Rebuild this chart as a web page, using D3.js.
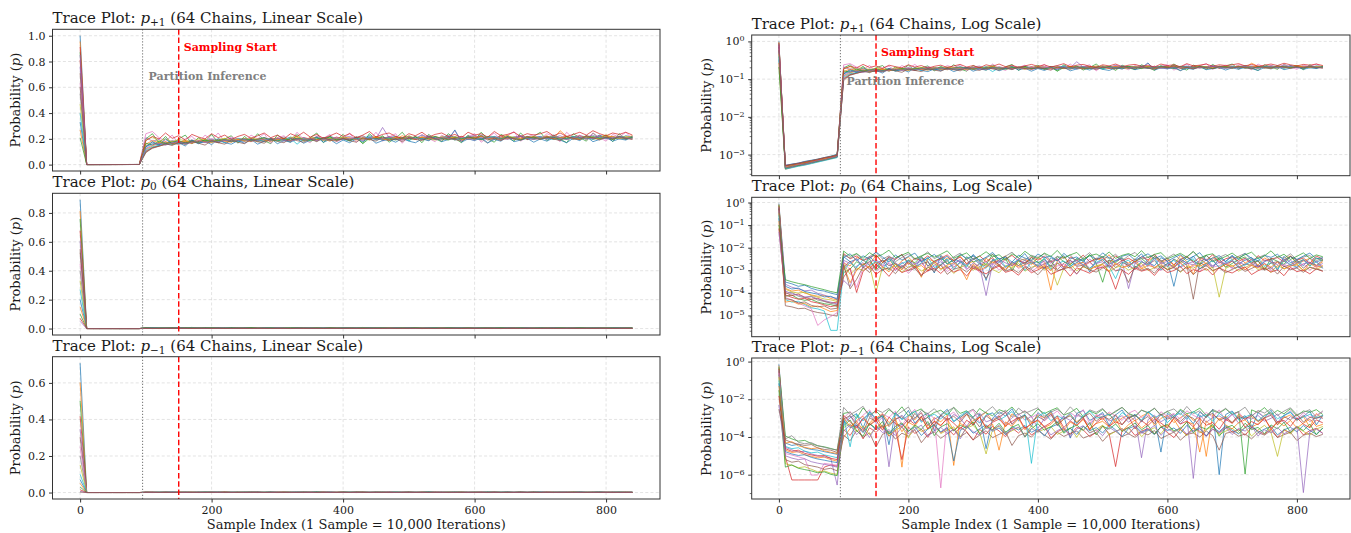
<!DOCTYPE html>
<html><head><meta charset="utf-8">
<script src="https://cdn.jsdelivr.net/npm/d3@7"></script>
<style>body{margin:0;background:#fff}svg{display:block}text{font-family:"DejaVu Serif",serif}</style>
</head><body><svg id="c" width="1351" height="533"></svg>
<script>
// Sample index (1 sample = 10,000 iterations)
const sampleIndex = [0,10,20,30,40,50,60,70,80,90,100,110,120,130,140,150,160,170,180,190,200,210,220,230,240,250,260,270,280,290,300,310,320,330,340,350,360,370,380,390,400,410,420,430,440,450,460,470,480,490,500,510,520,530,540,550,560,570,580,590,600,610,620,630,640,650,660,670,680,690,700,710,720,730,740,750,760,770,780,790,800,810,820,830,840];
const partitionIndex = 95;
const samplingStartIndex = 150;
const xTickValues = [0,200,400,600,800];
const chainCount = 64;

// Chain traces, values stored as 100*log10(p) (one row per drawn chain, 85 samples each)
const pPlus1 = [
[0,-334,-331,-327,-324,-320,-316,-313,-308,-304,-86,-79,-80,-76,-78,-74,-77,-73,-75,-72,-74,-70,-73,-72,-69,-71,-74,-70,-68,-72,-69,-71,-67,-70,-73,-69,-68,-71,-66,-70,-68,-71,-67,-70,-65,-69,-72,-68,-66,-70,-67,-69,-64,-68,-71,-67,-65,-69,-70,-66,-68,-64,-69,-67,-71,-66,-68,-65,-70,-67,-66,-69,-64,-68,-67,-70,-65,-67,-69,-64,-68,-66,-70,-65,-67],
[-2,-337,-332,-329,-325,-322,-317,-314,-310,-306,-92,-84,-78,-79,-75,-77,-73,-76,-74,-71,-75,-73,-70,-74,-72,-69,-72,-75,-70,-71,-68,-73,-70,-67,-71,-69,-72,-68,-70,-73,-67,-70,-68,-72,-69,-66,-71,-68,-70,-65,-69,-71,-67,-68,-66,-70,-67,-72,-66,-69,-68,-65,-70,-67,-69,-64,-71,-68,-66,-69,-68,-65,-70,-58,-66,-69,-71,-65,-68,-67,-64,-70,-66,-68,-65],
[-6,-330,-328,-325,-321,-318,-315,-311,-307,-302,-70,-62,-78,-66,-81,-70,-64,-79,-68,-75,-63,-77,-70,-65,-78,-66,-75,-62,-73,-79,-64,-71,-76,-63,-74,-68,-61,-77,-66,-72,-63,-74,-67,-78,-62,-71,-65,-76,-69,-60,-73,-66,-77,-63,-70,-75,-62,-69,-77,-64,-72,-60,-70,-76,-63,-68,-74,-61,-71,-66,-60,-73,-65,-70,-77,-62,-68,-74,-61,-69,-64,-75,-62,-70,-66],
[-9,-336,-333,-328,-326,-321,-318,-312,-309,-305,-98,-88,-83,-80,-78,-79,-76,-77,-74,-75,-73,-76,-72,-74,-71,-73,-70,-72,-74,-69,-72,-70,-73,-71,-68,-70,-72,-69,-71,-67,-70,-72,-68,-69,-71,-67,-70,-66,-69,-72,-68,-70,-67,-71,-69,-68,-71,-69,-66,-70,-68,-72,-67,-69,-65,-70,-68,-66,-71,-68,-70,-66,-69,-68,-71,-67,-65,-69,-70,-66,-68,-71,-67,-69,-68],
[-12,-328,-326,-322,-319,-316,-313,-309,-306,-301,-68,-74,-71,-78,-73,-75,-79,-72,-76,-73,-70,-74,-71,-69,-73,-70,-74,-71,-68,-72,-70,-74,-69,-71,-68,-72,-66,-70,-69,-71,-68,-66,-71,-69,-67,-70,-54,-68,-71,-69,-66,-70,-68,-65,-70,-69,-66,-68,-71,-67,-64,-70,-68,-66,-69,-71,-67,-65,-69,-68,-67,-70,-68,-65,-69,-66,-70,-67,-64,-69,-67,-70,-66,-68,-69],
[-15,-339,-334,-330,-327,-323,-319,-315,-311,-307,-100,-90,-84,-81,-79,-80,-77,-78,-75,-76,-74,-77,-73,-75,-72,-74,-71,-73,-75,-70,-72,-71,-74,-69,-72,-70,-68,-73,-70,-71,-69,-72,-67,-70,-71,-68,-70,-73,-67,-69,-70,-66,-71,-68,-70,-69,-67,-70,-72,-68,-66,-70,-69,-71,-67,-68,-70,-66,-69,-71,-68,-70,-67,-69,-66,-71,-68,-67,-70,-65,-69,-68,-66,-70,-67],
[-20,-332,-329,-326,-322,-319,-314,-311,-306,-303,-62,-59,-68,-74,-64,-79,-70,-66,-77,-64,-72,-61,-75,-67,-71,-76,-64,-70,-62,-78,-68,-65,-74,-60,-71,-77,-65,-69,-63,-75,-70,-61,-76,-66,-72,-60,-74,-67,-62,-78,-65,-71,-63,-69,-75,-64,-70,-58,-73,-66,-62,-76,-68,-61,-72,-65,-59,-74,-67,-63,-71,-62,-66,-75,-60,-69,-64,-72,-61,-68,-74,-63,-67,-60,-70],
[-26,-335,-330,-328,-323,-320,-317,-313,-309,-306,-84,-76,-81,-77,-74,-78,-75,-72,-77,-74,-71,-75,-73,-70,-74,-72,-69,-73,-71,-74,-70,-67,-72,-70,-69,-71,-74,-68,-70,-72,-69,-71,-68,-65,-70,-69,-72,-67,-71,-68,-66,-70,-69,-73,-67,-70,-68,-66,-69,-71,-68,-70,-78,-68,-72,-67,-69,-70,-66,-68,-69,-66,-71,-68,-70,-67,-69,-65,-68,-70,-66,-69,-68,-71,-66],
[-33,-331,-327,-324,-320,-317,-313,-310,-305,-300,-72,-67,-74,-70,-75,-71,-73,-76,-70,-72,-75,-71,-69,-73,-70,-74,-68,-71,-69,-73,-70,-72,-68,-66,-71,-69,-67,-72,-69,-70,-67,-69,-71,-68,-72,-66,-69,-70,-67,-71,-65,-69,-68,-70,-72,-66,-69,-67,-70,-68,-71,-66,-69,-67,-70,-65,-68,-71,-67,-69,-70,-68,-65,-69,-67,-70,-68,-66,-71,-68,-64,-67,-69,-66,-68],
[-40,-338,-335,-331,-328,-324,-320,-316,-312,-308,-95,-86,-82,-79,-81,-77,-79,-75,-78,-74,-76,-73,-77,-72,-75,-73,-71,-74,-72,-70,-73,-71,-69,-80,-70,-72,-68,-71,-73,-69,-71,-73,-69,-70,-67,-72,-70,-68,-71,-69,-73,-68,-70,-66,-71,-70,-68,-72,-69,-67,-70,-71,-68,-66,-70,-69,-67,-71,-68,-70,-67,-69,-71,-68,-70,-66,-69,-68,-71,-67,-69,-70,-66,-68,-69],
[-48,-329,-325,-323,-318,-315,-312,-308,-304,-299,-86,-75,-82,-70,-80,-77,-84,-72,-79,-74,-81,-70,-77,-80,-73,-78,-71,-80,-74,-69,-79,-73,-76,-70,-78,-72,-67,-76,-71,-79,-72,-77,-70,-75,-68,-78,-73,-71,-76,-69,-74,-77,-70,-73,-67,-75,-71,-57,-76,-70,-73,-68,-77,-71,-74,-66,-75,-72,-69,-76,-70,-74,-68,-72,-77,-69,-73,-66,-75,-71,-68,-74,-70,-72,-67],
[-57,-333,-330,-326,-323,-318,-315,-312,-307,-304,-80,-73,-77,-75,-80,-76,-74,-78,-73,-75,-77,-72,-74,-76,-71,-73,-75,-70,-72,-74,-71,-69,-73,-70,-72,-68,-71,-70,-74,-69,-70,-68,-72,-69,-71,-67,-70,-72,-68,-70,-69,-71,-67,-69,-70,-68,-70,-67,-71,-69,-68,-66,-70,-68,-71,-69,-67,-70,-68,-66,-69,-67,-70,-68,-66,-69,-71,-67,-68,-70,-67,-66,-69,-68,-70],
[-68,-336,-331,-329,-324,-321,-317,-314,-310,-305,-78,-82,-74,-79,-76,-73,-78,-74,-76,-72,-75,-73,-71,-75,-73,-70,-73,-71,-68,-72,-74,-70,-72,-69,-71,-74,-70,-69,-67,-72,-70,-73,-68,-79,-69,-70,-67,-69,-72,-68,-70,-67,-71,-69,-66,-69,-72,-68,-70,-67,-69,-71,-66,-68,-70,-67,-69,-72,-68,-67,-70,-68,-67,-71,-69,-67,-68,-70,-66,-69,-68,-71,-67,-70,-68],
[-4,-330,-327,-324,-321,-317,-314,-309,-306,-302,-73,-66,-70,-61,-69,-65,-72,-63,-67,-70,-62,-68,-64,-71,-66,-63,-69,-65,-61,-68,-64,-70,-62,-66,-60,-67,-63,-69,-65,-61,-66,-62,-68,-64,-59,-67,-63,-61,-66,-69,-62,-65,-60,-67,-63,-61,-66,-63,-68,-60,-64,-62,-67,-59,-65,-63,-60,-66,-62,-64,-62,-59,-65,-61,-66,-63,-60,-64,-58,-62,-65,-61,-63,-60,-64],
[-7,-334,-332,-327,-325,-321,-316,-314,-309,-305,-90,-81,-78,-82,-77,-75,-79,-76,-73,-77,-74,-76,-72,-74,-73,-71,-74,-72,-70,-73,-69,-72,-74,-70,-71,-69,-73,-70,-72,-68,-71,-69,-70,-73,-68,-71,-69,-67,-70,-72,-68,-69,-71,-67,-70,-68,-69,-71,-67,-70,-72,-68,-69,-67,-71,-68,-70,-66,-69,-71,-68,-70,-66,-69,-71,-68,-67,-70,-69,-66,-70,-68,-67,-69,-70],
[-22,-329,-326,-323,-319,-316,-312,-308,-305,-301,-104,-88,-85,-79,-83,-76,-81,-74,-78,-82,-73,-77,-80,-72,-76,-79,-71,-75,-78,-70,-74,-77,-69,-73,-76,-70,-75,-68,-72,-74,-69,-73,-76,-68,-71,-74,-67,-72,-70,-75,-68,-71,-73,-66,-70,-72,-68,-71,-74,-67,-70,-65,-72,-69,-73,-67,-70,-72,-66,-69,-71,-67,-70,-73,-66,-69,-71,-65,-68,-72,-67,-70,-66,-69,-71]
];

const p0 = [
[-5,-352,-360,-371,-366,-380,-388,-392,-401,-408,-240,-262,-251,-285,-238,-270,-255,-299,-247,-231,-268,-290,-244,-259,-312,-236,-274,-249,-262,-287,-230,-258,-345,-251,-266,-240,-279,-253,-226,-270,-261,-293,-244,-258,-235,-281,-266,-249,-308,-255,-239,-273,-260,-247,-288,-252,-227,-265,-280,-244,-259,-371,-250,-268,-237,-276,-254,-290,-245,-262,-233,-271,-256,-243,-284,-262,-249,-301,-238,-267,-255,-280,-246,-264,-252],
[-9,-380,-392,-388,-401,-409,-415,-412,-425,-431,-268,-281,-243,-255,-276,-233,-264,-250,-289,-258,-242,-270,-331,-249,-262,-279,-245,-256,-238,-272,-261,-297,-247,-268,-254,-236,-283,-260,-249,-276,-243,-265,-388,-257,-240,-271,-252,-286,-263,-246,-259,-231,-277,-255,-268,-249,-292,-258,-241,-266,-253,-279,-235,-262,-318,-250,-271,-244,-260,-286,-256,-239,-268,-251,-277,-245,-263,-290,-254,-236,-272,-259,-247,-281,-262],
[-12,-415,-410,-426,-433,-429,-441,-448,-452,-460,-310,-295,-262,-278,-250,-301,-266,-243,-273,-289,-254,-267,-238,-281,-259,-246,-270,-257,-291,-240,-264,-252,-276,-229,-261,-248,-302,-256,-273,-244,-267,-251,-283,-239,-262,-275,-248,-257,-230,-269,-353,-254,-266,-243,-278,-261,-248,-272,-239,-256,-284,-250,-267,-242,-259,-275,-233,-263,-249,-287,-270,-252,-241,-265,-259,-298,-247,-260,-274,-238,-266,-253,-282,-245,-258],
[-17,-398,-412,-405,-420,-428,-424,-437,-445,-441,-226,-249,-237,-258,-244,-231,-266,-240,-252,-229,-274,-246,-258,-236,-263,-247,-232,-259,-241,-270,-253,-236,-262,-244,-279,-250,-234,-258,-267,-242,-255,-238,-264,-249,-288,-241,-257,-233,-262,-251,-245,-270,-236,-258,-247,-263,-240,-254,-229,-261,-246,-276,-252,-238,-265,-243,-256,-231,-268,-249,-241,-260,-247,-272,-235,-258,-250,-244,-263,-239,-255,-246,-269,-237,-251],
[-22,-362,-375,-382,-391,-388,-402,-410,-418,-424,-345,-372,-281,-266,-297,-258,-283,-270,-302,-264,-290,-273,-259,-305,-277,-262,-288,-275,-251,-296,-268,-283,-412,-271,-258,-289,-265,-279,-254,-293,-272,-260,-284,-267,-298,-256,-279,-263,-291,-270,-252,-286,-275,-260,-381,-269,-283,-257,-292,-266,-278,-250,-287,-271,-262,-295,-268,-281,-255,-274,-290,-263,-277,-252,-285,-269,-296,-261,-278,-254,-289,-272,-264,-283,-270],
[-28,-457,-462,-470,-468,-480,-487,-491,-498,-503,-288,-259,-300,-275,-262,-291,-253,-280,-268,-296,-257,-285,-271,-263,-299,-276,-258,-287,-265,-251,-293,-270,-282,-256,-274,-301,-262,-279,-266,-254,-286,-272,-259,-297,-268,-255,-283,-277,-261,-292,-270,-256,-288,-265,-279,-298,-263,-274,-257,-289,-270,-284,-259,-276,-428,-266,-281,-253,-290,-273,-260,-286,-271,-279,-257,-294,-268,-262,-284,-275,-259,-291,-266,-278,-255],
[-35,-420,-433,-445,-458,-470,-544,-520,-505,-488,-262,-300,-376,-290,-271,-304,-283,-265,-297,-278,-314,-286,-269,-299,-281,-273,-306,-285,-268,-295,-279,-310,-287,-270,-298,-283,-263,-292,-277,-305,-286,-269,-300,-281,-274,-293,-318,-279,-266,-290,-284,-272,-302,-288,-275,-296,-280,-267,-289,-301,-276,-284,-270,-294,-282,-307,-273,-287,-279,-265,-292,-283,-298,-275,-288,-269,-303,-281,-276,-294,-286,-271,-299,-280,-290],
[-40,-403,-398,-415,-422,-417,-432,-438,-446,-452,-232,-246,-228,-255,-239,-221,-250,-236,-262,-243,-227,-254,-240,-218,-249,-233,-258,-241,-224,-252,-237,-265,-245,-229,-251,-238,-220,-247,-256,-234,-243,-226,-259,-238,-248,-231,-266,-244,-222,-253,-239,-247,-229,-257,-236,-221,-250,-242,-233,-261,-245,-228,-254,-240,-217,-249,-235,-258,-243,-230,-252,-238,-225,-256,-244,-232,-260,-239,-247,-227,-253,-241,-235,-258,-244],
[-48,-384,-396,-401,-397,-412,-419,-427,-431,-438,-272,-318,-290,-301,-279,-397,-286,-296,-273,-309,-285,-277,-303,-290,-268,-297,-282,-314,-288,-275,-300,-284,-271,-296,-311,-279,-289,-269,-304,-287,-276,-298,-283,-366,-291,-274,-302,-285,-296,-280,-272,-307,-288,-279,-299,-286,-270,-301,-289,-281,-295,-276,-309,-283,-291,-274,-300,-286,-419,-292,-278,-304,-288,-273,-297,-285,-310,-279,-293,-281,-272,-301,-287,-296,-283],
[-57,-430,-441,-437,-452,-466,-471,-480,-566,-566,-300,-265,-289,-252,-279,-261,-304,-248,-284,-270,-257,-293,-266,-243,-288,-275,-250,-297,-262,-281,-247,-273,-291,-258,-246,-285,-269,-254,-301,-263,-280,-244,-296,-271,-259,-287,-248,-276,-292,-265,-251,-283,-337,-268,-255,-290,-261,-278,-245,-299,-270,-256,-284,-263,-249,-294,-272,-258,-286,-267,-253,-289,-276,-261,-247,-282,-266,-295,-257,-274,-288,-251,-280,-263,-292],
[-70,-371,-383,-379,-394,-400,-406,-418,-415,-429,-243,-227,-258,-236,-250,-219,-241,-263,-232,-255,-239,-224,-261,-247,-230,-253,-238,-266,-229,-248,-235,-257,-242,-221,-251,-240,-264,-233,-246,-256,-228,-244,-237,-259,-225,-249,-241,-262,-234,-252,-223,-245,-258,-238,-230,-255,-242,-227,-249,-236,-260,-244,-231,-253,-239,-222,-257,-246,-235,-261,-238,-250,-226,-247,-259,-234,-243,-229,-256,-240,-252,-237,-224,-249,-245],
[-82,-441,-436,-450,-447,-462,-458,-470,-483,-478,-282,-355,-300,-270,-291,-263,-285,-307,-274,-298,-266,-289,-279,-303,-260,-294,-277,-267,-288,-342,-273,-299,-285,-262,-281,-296,-270,-286,-275,-264,-292,-279,-301,-268,-284,-290,-272,-265,-297,-283,-276,-303,-269,-288,-280,-261,-295,-278,-287,-271,-299,-285,-266,-293,-276,-282,-268,-304,-289,-274,-283,-267,-298,-279,-290,-272,-286,-263,-295,-281,-276,-302,-270,-287,-279],
[-100,-342,-351,-358,-364,-372,-379,-386,-394,-400,-215,-238,-226,-247,-222,-241,-230,-211,-244,-233,-220,-249,-236,-225,-242,-229,-214,-246,-235,-223,-251,-238,-218,-240,-231,-255,-227,-243,-216,-237,-248,-224,-239,-212,-245,-232,-221,-250,-236,-228,-243,-219,-247,-234,-226,-240,-213,-244,-230,-222,-249,-237,-225,-242,-217,-246,-233,-227,-251,-239,-224,-245,-231,-220,-248,-236,-214,-243,-229,-252,-238,-223,-247,-232,-240],
[-115,-409,-420,-428,-424,-439,-445,-453,-461,-455,-330,-290,-398,-305,-281,-318,-296,-327,-288,-310,-299,-283,-321,-302,-291,-314,-286,-308,-297,-325,-289,-303,-316,-294,-282,-309,-300,-322,-287,-311,-298,-284,-318,-305,-292,-326,-289,-301,-313,-295,-286,-307,-384,-299,-318,-290,-304,-296,-323,-288,-310,-301,-283,-315,-297,-306,-292,-321,-289,-303,-312,-296,-285,-319,-302,-291,-308,-298,-324,-287,-306,-299,-316,-293,-305],
[-130,-392,-404,-410,-418,-415,-427,-434,-441,-449,-256,-270,-247,-290,-262,-253,-278,-244,-268,-286,-259,-273,-249,-281,-265,-252,-295,-267,-258,-276,-246,-271,-263,-289,-254,-267,-280,-250,-274,-261,-283,-255,-269,-248,-292,-264,-257,-277,-251,-270,-262,-287,-256,-249,-273,-266,-258,-284,-247,-270,-261,-291,-253,-268,-276,-259,-250,-282,-265,-271,-257,-278,-248,-269,-286,-254,-263,-275,-250,-281,-267,-256,-272,-260,-288],
[-26,-426,-430,-445,-440,-455,-462,-458,-472,-468,-275,-382,-340,-285,-310,-273,-298,-289,-315,-279,-301,-292,-326,-284,-306,-277,-318,-295,-287,-308,-281,-299,-336,-290,-276,-304,-293,-311,-283,-297,-320,-288,-278,-302,-294,-285,-316,-281,-299,-308,-290,-277,-303,-296,-354,-282,-300,-291,-313,-279,-297,-288,-306,-285,-319,-293,-280,-301,-289,-311,-296,-284,-305,-292,-278,-300,-287,-317,-282,-298,-290,-309,-286,-295,-302]
];

const pMinus1 = [
[-15,-432,-445,-439,-458,-466,-470,-478,-485,-492,-330,-298,-276,-352,-265,-310,-287,-441,-270,-305,-259,-326,-291,-274,-368,-282,-253,-318,-296,-269,-337,-278,-462,-301,-266,-289,-250,-315,-283,-345,-271,-298,-262,-327,-288,-406,-275,-259,-312,-294,-270,-338,-283,-257,-305,-279,-321,-266,-292,-480,-274,-301,-259,-287,-330,-268,-295,-253,-600,-281,-262,-304,-287,-355,-271,-296,-258,-323,-284,-270,-309,-291,-263,-336,-285],
[-22,-470,-482,-478,-495,-503,-511,-507,-520,-528,-402,-355,-312,-290,-338,-301,-276,-324,-296,-560,-283,-309,-271,-343,-297,-320,-285,-551,-305,-279,-331,-294,-268,-316,-289,-347,-277,-304,-292,-326,-283,-298,-270,-335,-306,-281,-319,-293,-365,-287,-310,-275,-328,-299,-284,-315,-290,-272,-340,-301,-286,-324,-297,-278,-312,-295,-503,-281,-306,-289,-327,-279,-301,-292,-318,-284,-271,-337,-298,-283,-312,-290,-349,-276,-302],
[-30,-395,-410,-422,-418,-435,-447,-452,-461,-470,-275,-268,-301,-246,-283,-262,-297,-255,-279,-240,-288,-266,-251,-292,-270,-258,-284,-243,-275,-261,-296,-249,-273,-287,-255,-268,-241,-281,-263,-290,-252,-276,-259,-245,-284,-270,-248,-293,-262,-277,-254,-286,-266,-243,-275,-289,-258,-271,-249,-282,-264,-291,-253,-276,-268,-247,-285,-260,-274,-251,-280,-265,-597,-256,-271,-244,-283,-259,-277,-250,-288,-262,-269,-255,-281],
[-38,-505,-628,-628,-628,-628,-628,-560,-548,-555,-360,-392,-338,-410,-351,-375,-342,-396,-364,-520,-347,-381,-359,-402,-340,-377,-355,-389,-348,-371,-417,-360,-385,-343,-368,-398,-352,-379,-346,-390,-366,-343,-405,-372,-356,-387,-349,-362,-398,-375,-341,-383,-557,-364,-350,-392,-369,-355,-384,-347,-376,-403,-361,-388,-352,-370,-395,-357,-381,-345,-374,-360,-391,-349,-368,-385,-356,-402,-363,-378,-347,-389,-366,-354,-381],
[-46,-455,-468,-480,-476,-490,-498,-505,-512,-655,-318,-287,-343,-302,-276,-329,-295,-558,-310,-284,-322,-299,-271,-337,-305,-289,-316,-280,-301,-344,-292,-273,-320,-307,-286,-333,-298,-276,-311,-290,-355,-302,-281,-326,-294,-312,-283,-300,-339,-291,-278,-315,-303,-287,-321,-296,-510,-308,-285,-319,-299,-280,-331,-293,-620,-282,-322,-297,-288,-310,-279,-327,-294,-305,-286,-316,-301,-278,-325,-292,-309,-285,-318,-296,-300],
[-52,-520,-534,-528,-547,-553,-560,-572,-566,-580,-390,-420,-365,-402,-378,-453,-386,-369,-411,-380,-395,-362,-430,-388,-374,-407,-383,-360,-399,-376,-415,-390,-367,-404,-386,-372,-445,-393,-379,-401,-366,-389,-412,-375,-397,-381,-368,-406,-392,-377,-423,-385,-370,-398,-383,-402,-375,-389,-366,-408,-391,-374,-417,-386,-379,-400,-368,-393,-470,-381,-372,-396,-384,-410,-377,-390,-365,-403,-388,-375,-419,-391,-380,-398,-386],
[-60,-488,-496,-505,-515,-602,-602,-540,-545,-550,-300,-265,-322,-284,-256,-311,-278,-296,-262,-340,-287,-253,-318,-275,-301,-670,-292,-268,-309,-281,-257,-326,-290,-272,-305,-264,-333,-283,-259,-298,-276,-315,-288,-262,-304,-271,-294,-255,-329,-280,-300,-267,-289,-312,-274,-258,-297,-283,-320,-266,-291,-275,-306,-261,-285,-302,-270,-293,-256,-316,-282,-268,-309,-287,-264,-299,-277,-324,-289,-260,-303,-272,-295,-283,-266],
[-70,-410,-393,-428,-436,-430,-446,-455,-463,-470,-243,-281,-262,-237,-296,-255,-270,-248,-289,-265,-241,-302,-259,-276,-250,-285,-263,-244,-297,-271,-252,-288,-266,-239,-279,-258,-293,-247,-274,-260,-245,-290,-268,-253,-282,-240,-275,-298,-256,-269,-249,-286,-262,-243,-278,-295,-257,-272,-246,-288,-264,-251,-283,-238,-277,-261,-299,-254,-270,-248,-280,-266,-242,-291,-259,-273,-250,-286,-263,-245,-281,-269,-255,-294,-261],
[-82,-542,-550,-563,-558,-571,-585,-580,-592,-598,-350,-330,-372,-341,-388,-355,-336,-392,-362,-348,-405,-340,-371,-357,-334,-382,-364,-346,-399,-353,-338,-376,-490,-360,-343,-385,-367,-350,-396,-339,-374,-358,-345,-386,-369,-352,-402,-344,-377,-361,-337,-390,-370,-355,-380,-347,-398,-366,-351,-383,-340,-373,-359,-394,-348,-378,-363,-341,-387,-369,-354,-381,-346,-395,-362,-338,-376,-503,-357,-384,-349,-370,-391,-358,-344],
[-100,-450,-462,-457,-475,-484,-480,-495,-502,-510,-297,-452,-280,-315,-268,-301,-290,-335,-274,-309,-286,-262,-322,-295,-279,-304,-271,-318,-288,-263,-299,-326,-283,-272,-311,-290,-265,-302,-280,-540,-292,-269,-314,-287,-305,-276,-330,-284,-261,-300,-293,-278,-316,-270,-297,-285,-310,-266,-298,-281,-324,-289,-273,-306,-264,-293,-282,-317,-275,-302,-268,-309,-294,-279,-313,-286,-271,-303,-288,-266,-311,-295,-280,-298,-285],
[-115,-478,-490,-498,-494,-508,-517,-523,-530,-536,-315,-351,-338,-377,-329,-362,-340,-384,-355,-331,-369,-346,-392,-359,-336,-373,-349,-527,-366,-342,-380,-357,-335,-370,-352,-388,-344,-363,-339,-375,-358,-395,-348,-333,-371,-354,-386,-343,-367,-350,-379,-337,-362,-398,-355,-341,-374,-360,-387,-345,-366,-352,-381,-338,-369,-356,-395,-347,-372,-340,-364,-383,-351,-336,-376,-358,-344,-389,-362,-349,-372,-339,-366,-385,-353],
[-130,-433,-425,-447,-455,-462,-458,-473,-481,-488,-300,-345,-318,-362,-327,-290,-351,-334,-309,-372,-322,-341,-296,-358,-315,-337,-305,-366,-328,-348,-312,-295,-355,-331,-470,-320,-343,-301,-362,-326,-314,-350,-333,-298,-365,-321,-340,-307,-356,-329,-317,-346,-302,-369,-335,-311,-353,-325,-292,-344,-338,-306,-361,-319,-332,-480,-315,-349,-303,-336,-357,-324,-309,-347,-330,-296,-363,-318,-341,-312,-352,-327,-305,-344,-333],
[-152,-560,-548,-566,-573,-580,-590,-585,-598,-605,-340,-310,-366,-396,-328,-355,-318,-382,-344,-325,-371,-336,-360,-318,-393,-347,-329,-368,-338,-352,-320,-384,-341,-362,-327,-375,-349,-333,-401,-356,-330,-364,-346,-319,-380,-353,-337,-366,-324,-389,-343,-358,-331,-371,-350,-326,-362,-339,-385,-348,-333,-367,-355,-321,-378,-345,-359,-334,-396,-352,-338,-370,-327,-361,-349,-383,-336,-357,-322,-375,-344,-366,-331,-389,-352],
[-182,-462,-476,-470,-487,-495,-502,-498,-513,-520,-285,-320,-352,-301,-338,-312,-364,-295,-329,-347,-306,-333,-290,-356,-318,-341,-299,-327,-360,-311,-336,-293,-349,-322,-305,-342,-317,-296,-354,-330,-308,-345,-324,-289,-350,-315,-337,-302,-361,-326,-298,-343,-319,-334,-292,-357,-313,-339,-305,-326,-352,-297,-331,-316,-346,-301,-338,-323,-359,-307,-327,-294,-348,-318,-335,-303,-355,-321,-312,-344,-299,-332,-351,-309,-325],
[-230,-500,-512,-520,-516,-531,-539,-545,-552,-560,-370,-335,-388,-352,-403,-341,-377,-361,-392,-346,-383,-359,-337,-396,-368,-349,-381,-357,-410,-343,-372,-390,-351,-365,-338,-384,-362,-347,-398,-355,-375,-342,-389,-366,-350,-401,-358,-340,-379,-363,-393,-348,-371,-356,-386,-345,-380,-364,-339,-391,-357,-374,-349,-385,-367,-344,-397,-360,-376,-352,-387,-354,-369,-341,-395,-362,-378,-350,-383,-365,-346,-695,-372,-358,-381],
[-252,-415,-430,-438,-445,-440,-458,-466,-470,-482,-305,-286,-330,-372,-298,-318,-281,-345,-304,-292,-326,-275,-312,-296,-339,-283,-308,-290,-322,-279,-301,-347,-287,-315,-294,-270,-333,-299,-285,-320,-292,-311,-277,-340,-303,-288,-325,-296,-274,-316,-289,-307,-282,-336,-298,-284,-313,-291,-329,-278,-305,-293,-318,-286,-301,-344,-289,-275,-312,-297,-323,-288,-306,-281,-317,-299,-285,-334,-292,-309,-280,-321,-296,-302,-288]
];

// Tick values
const linearTicks = [[0,0.2,0.4,0.6,0.8,1.0],[0,0.2,0.4,0.6,0.8],[0,0.2,0.4,0.6]];
const logMajorExponents = [[0,-1,-2,-3],[0,-1,-2,-3,-4,-5],[0,-2,-4,-6]];
const logMinorExponents = [null,null,[-1,-3,-5,-7]];
const seriesNames = ["+1","0","\u22121"];
const seriesData = [pPlus1, p0, pMinus1];

const svg = d3.select('#c');
const colors = d3.schemeCategory10;
const INK = '#1a1a1a';
const FONT = '"DejaVu Serif",serif';

const columns = [
  {x0:52.5, x1:660, ylabX:16, scaleName:'Linear', rows:[[29.3,171],[193.3,335],[356.7,499]]},
  {x0:751.7, x1:1350, ylabX:707, scaleName:'Log', rows:[[35,175.7],[197.3,336.7],[358,499]]}
];

function supText(sel, base, exp){
  sel.text(null);
  sel.append('tspan').text(base);
  sel.append('tspan').attr('dy','-0.5em').attr('font-size','8px').text(exp);
}

const xExt = d3.extent(sampleIndex);
const xPad = 0.05*(xExt[1]-xExt[0]);
let clipN = 0;

columns.forEach((col, ci) => {
  const isLog = ci === 1;
  const x = d3.scaleLinear().domain([xExt[0]-xPad, xExt[1]+xPad]).range([col.x0, col.x1]);
  seriesData.forEach((raw, ri) => {
    const [top, bot] = col.rows[ri];
    const vals = raw.map(row => row.map(v => Math.pow(10, v/100)));
    const all = vals.flat();
    const lo = d3.min(all), hi = d3.max(all);
    let y;
    if (isLog) {
      const a = Math.log10(lo), b = Math.log10(hi), m = 0.05*(b-a);
      y = d3.scaleLog().domain([Math.pow(10,a-m), Math.pow(10,b+m)]).range([bot, top]);
    } else {
      const m = 0.05*(hi-lo);
      y = d3.scaleLinear().domain([lo-m, hi+m]).range([bot, top]);
    }
    const g = svg.append('g');
    const cid = 'clip'+(clipN++);
    g.append('clipPath').attr('id', cid).append('rect')
      .attr('x', col.x0).attr('y', top).attr('width', col.x1-col.x0).attr('height', bot-top);

    // grid
    const yMajor = isLog ? logMajorExponents[ri].map(e => Math.pow(10,e)) : linearTicks[ri];
    const grid = g.append('g').attr('stroke', '#b0b0b0').attr('stroke-opacity', 0.45)
      .attr('stroke-width', 0.8).attr('stroke-dasharray', '3,2.2');
    xTickValues.forEach(t => grid.append('line').attr('x1', x(t)).attr('x2', x(t)).attr('y1', top).attr('y2', bot));
    yMajor.forEach(t => grid.append('line').attr('x1', col.x0).attr('x2', col.x1).attr('y1', y(t)).attr('y2', y(t)));

    // chains
    const lines = g.append('g').attr('clip-path', 'url(#'+cid+')');
    const lineGen = d3.line().x(d => x(d[0])).y(d => y(d[1]));
    vals.forEach((row, c) => {
      const pts = row.slice(0, sampleIndex.length).map((p, i) => [sampleIndex[i], p]);
      lines.append('path').attr('d', lineGen(pts)).attr('fill', 'none')
        .attr('stroke', colors[c % 10]).attr('stroke-width', 1).attr('stroke-opacity', 0.72)
        .attr('stroke-linejoin', 'round');
    });

    // markers
    g.append('line').attr('x1', x(partitionIndex)).attr('x2', x(partitionIndex)).attr('y1', top).attr('y2', bot)
      .attr('stroke', '#808080').attr('stroke-width', 1.1).attr('stroke-dasharray', '1.2,1.8');
    g.append('line').attr('x1', x(samplingStartIndex)).attr('x2', x(samplingStartIndex)).attr('y1', top).attr('y2', bot)
      .attr('stroke', '#ff0000').attr('stroke-width', 1.4).attr('stroke-dasharray', '5.5,2.8');

    if (ri === 0) {
      g.append('text').attr('x', x(samplingStartIndex)+5).attr('y', top + 0.13*(bot-top))
        .attr('dominant-baseline', 'middle').attr('font-size', '11px').attr('font-weight', 'bold')
        .attr('fill', '#ff0000').text('Sampling Start');
      g.append('text').attr('x', x(partitionIndex)+6).attr('y', top + 0.335*(bot-top))
        .attr('dominant-baseline', 'middle').attr('font-size', '11px').attr('font-weight', 'bold')
        .attr('fill', '#808080').text('Partition Inference');
    }

    // frame
    g.append('rect').attr('x', col.x0).attr('y', top).attr('width', col.x1-col.x0).attr('height', bot-top)
      .attr('fill', 'none').attr('stroke', '#333').attr('stroke-width', 1);

    // x axis
    const xa = g.append('g').attr('transform', `translate(0,${bot})`)
      .call(d3.axisBottom(x).tickValues(xTickValues).tickSize(3.5).tickPadding(4)
        .tickFormat(ri === 2 ? d3.format('d') : () => ''));
    xa.select('.domain').remove();
    xa.selectAll('line').attr('stroke', '#333');
    xa.selectAll('text').attr('font-family', FONT).attr('font-size', '11px').attr('fill', INK);

    // y axis
    const ya = g.append('g').attr('transform', `translate(${col.x0},0)`)
      .call(d3.axisLeft(y).tickValues(yMajor).tickSize(3.5).tickPadding(3.5)
        .tickFormat(isLog ? () => '' : d3.format('.1f')));
    ya.select('.domain').remove();
    ya.selectAll('line').attr('stroke', '#333');
    ya.selectAll('text').attr('font-family', FONT).attr('font-size', '11px').attr('fill', INK);
    if (isLog) {
      ya.selectAll('.tick text').each(function(d){
        const e = Math.round(Math.log10(d));
        supText(d3.select(this), '10', e < 0 ? '\u2212' + (-e) : String(e));
      });
      const [d0, d1] = y.domain();
      const minor = [];
      if (logMinorExponents[ri]) {
        logMinorExponents[ri].forEach(e => { const v = Math.pow(10,e); if (v>=d0 && v<=d1) minor.push(v); });
      } else {
        for (let e = Math.floor(Math.log10(d0)); e <= Math.ceil(Math.log10(d1)); e++) {
          [2,3,4,5,6,7,8,9].forEach(s => { const v = s*Math.pow(10,e); if (v>=d0 && v<=d1) minor.push(v); });
        }
      }
      minor.forEach(v => g.append('line').attr('x1', col.x0-2).attr('x2', col.x0).attr('y1', y(v)).attr('y2', y(v))
        .attr('stroke', '#333').attr('stroke-width', 0.7));
    }

    // title
    const t = g.append('text').attr('x', col.x0).attr('y', top-6).attr('font-size', '15px').attr('fill', INK);
    t.append('tspan').text('Trace Plot: ');
    t.append('tspan').attr('font-style', 'italic').text('p');
    t.append('tspan').attr('font-size', '10.5px').attr('dy', '3').text(seriesNames[ri]);
    t.append('tspan').attr('dy', '-3').text(` (${chainCount} Chains, ${col.scaleName} Scale)`);

    // y label
    const yl = g.append('text').attr('transform', `translate(${col.ylabX},${(top+bot)/2}) rotate(-90)`)
      .attr('text-anchor', 'middle').attr('dominant-baseline', 'middle').attr('font-size', '13px').attr('fill', INK);
    yl.append('tspan').text('Probability (');
    yl.append('tspan').attr('font-style', 'italic').text('p');
    yl.append('tspan').text(')');

    if (ri === 2) {
      g.append('text').attr('x', (col.x0+col.x1)/2).attr('y', 529).attr('text-anchor', 'middle')
        .attr('font-size', '13px').attr('fill', INK).text('Sample Index (1 Sample = 10,000 Iterations)');
    }
  });
});

// data sanity check
const bad = [];
seriesData.forEach((s, si) => s.forEach((row, r) => { if (row.length !== sampleIndex.length) bad.push(si+':'+r+'='+row.length); }));
if (bad.length) throw new Error('Row length mismatch ' + bad.join(' '));
</script></body></html>
